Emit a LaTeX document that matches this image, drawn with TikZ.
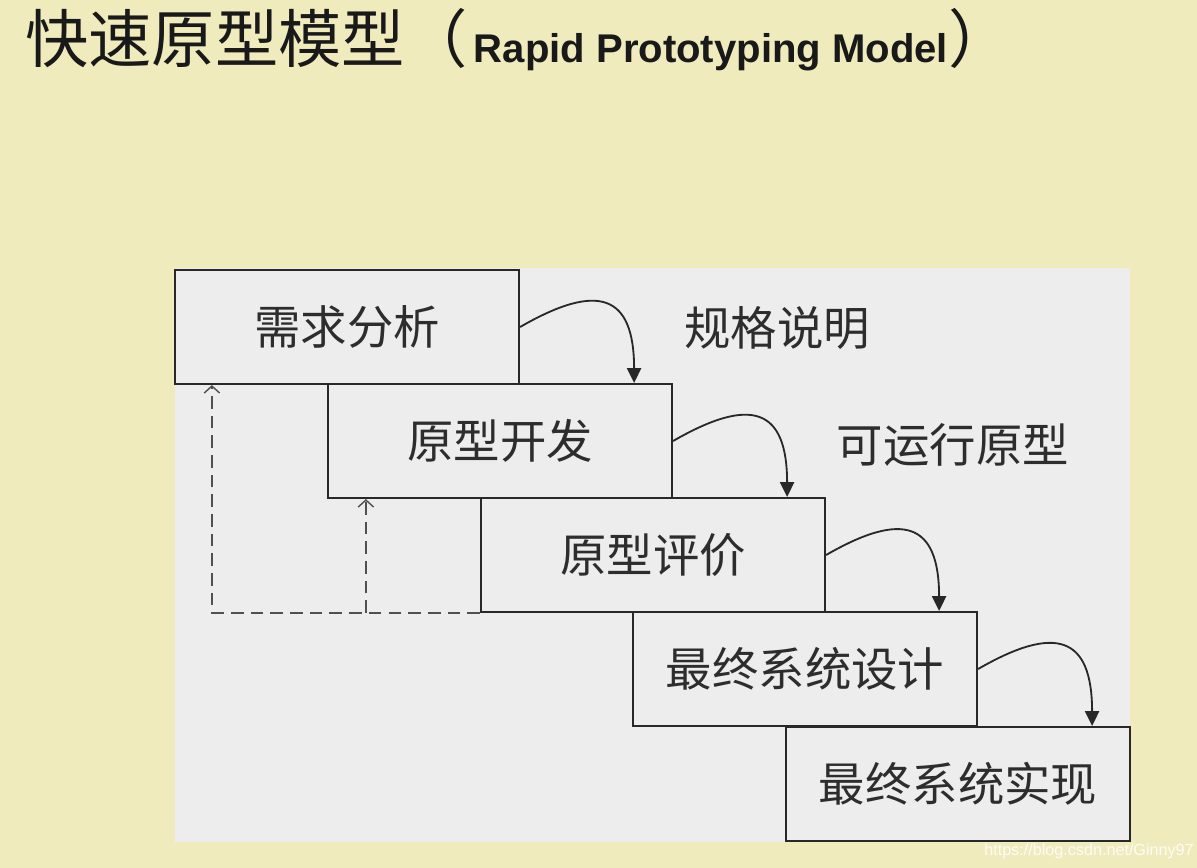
\documentclass[tikz,border=0pt]{standalone}
\usepackage{fontspec}
\newfontfamily\cjk{Noto Sans CJK SC}
\newfontfamily\arialf{Liberation Sans}
\usetikzlibrary{arrows.meta, calc}

\definecolor{sfondo}{RGB}{240,235,189}
\definecolor{pannello}{RGB}{237,237,237}
\definecolor{bordo}{RGB}{40,40,40}
\definecolor{testo}{RGB}{45,45,45}
\definecolor{tratto}{RGB}{80,80,80}

\begin{document}
\begin{tikzpicture}[x=0.025cm, y=-0.025cm,
  fase/.style={draw=bordo, line width=1.5pt, fill=pannello, text=testo,
    minimum width=8.6cm, minimum height=2.85cm, inner sep=0pt,
    font=\cjk\fontsize{33}{40}\selectfont},
  nota/.style={text=testo, inner sep=0pt, font=\cjk\fontsize{33}{40}\selectfont},
  freccia/.style={draw=bordo, line width=1.3pt, -{Triangle[length=10.5pt,width=10pt]}},
  ritorno/.style={draw=tratto, line width=1.8pt, dash pattern=on 9pt off 5pt,
    -{Straight Barb[length=5pt,width=11pt,line width=1pt]}}]
  % sfondo
  \fill[sfondo] (0,0) rectangle (1197,868);
  \useasboundingbox (0,0) rectangle (1197,868);
  \fill[pannello] (175,268) rectangle (1130,842);

  % titolo
  \node[anchor=base west, inner sep=0pt, text=black!90] (titolo) at (25,62)
    {{\cjk\fontsize{45}{54}\selectfont 快速原型模型（}\hspace{4pt}{\arialf\bfseries\fontsize{28.5}{34}\selectfont Rapid Prototyping Model}{\cjk\fontsize{45}{54}\selectfont ）}};

  % fasi
  \node[fase] (b1) at (347,327) {需求分析};
  \node[fase] (b2) at (500,441) {原型开发};
  \node[fase] (b3) at (653,555) {原型评价};
  \node[fase] (b4) at (805,669) {最终系统设计};
  \node[fase] (b5) at (958,784) {最终系统实现};

  \node[nota] (n1) at (777,328) {规格说明};
  \node[nota] (n2) at (953,445) {可运行原型};

  % frecce
  \foreach \a/\b in {b1/b2, b2/b3, b3/b4, b4/b5}
    \draw[freccia] (\a.east) to[out=30, in=90, looseness=1.8] ($(\b.north east)+(-39,0)$);

  % ritorni tratteggiati
  \coordinate (r1) at ($(b1.south west)+(38,0)$);
  \coordinate (r2) at ($(b2.south west)+(39,0)$);
  \draw[ritorno] (b3.south west) -| (r1);
  \draw[ritorno] (r2 |- b3.south) -- (r2);

  % indirizzo
  \node[anchor=base east, inner sep=0pt, text=white, opacity=0.85,
    font=\arialf\fontsize{11.5}{14}\selectfont] (marca) at (1194,855) {https://blog.csdn.net/Ginny97};
\end{tikzpicture}
\end{document}
